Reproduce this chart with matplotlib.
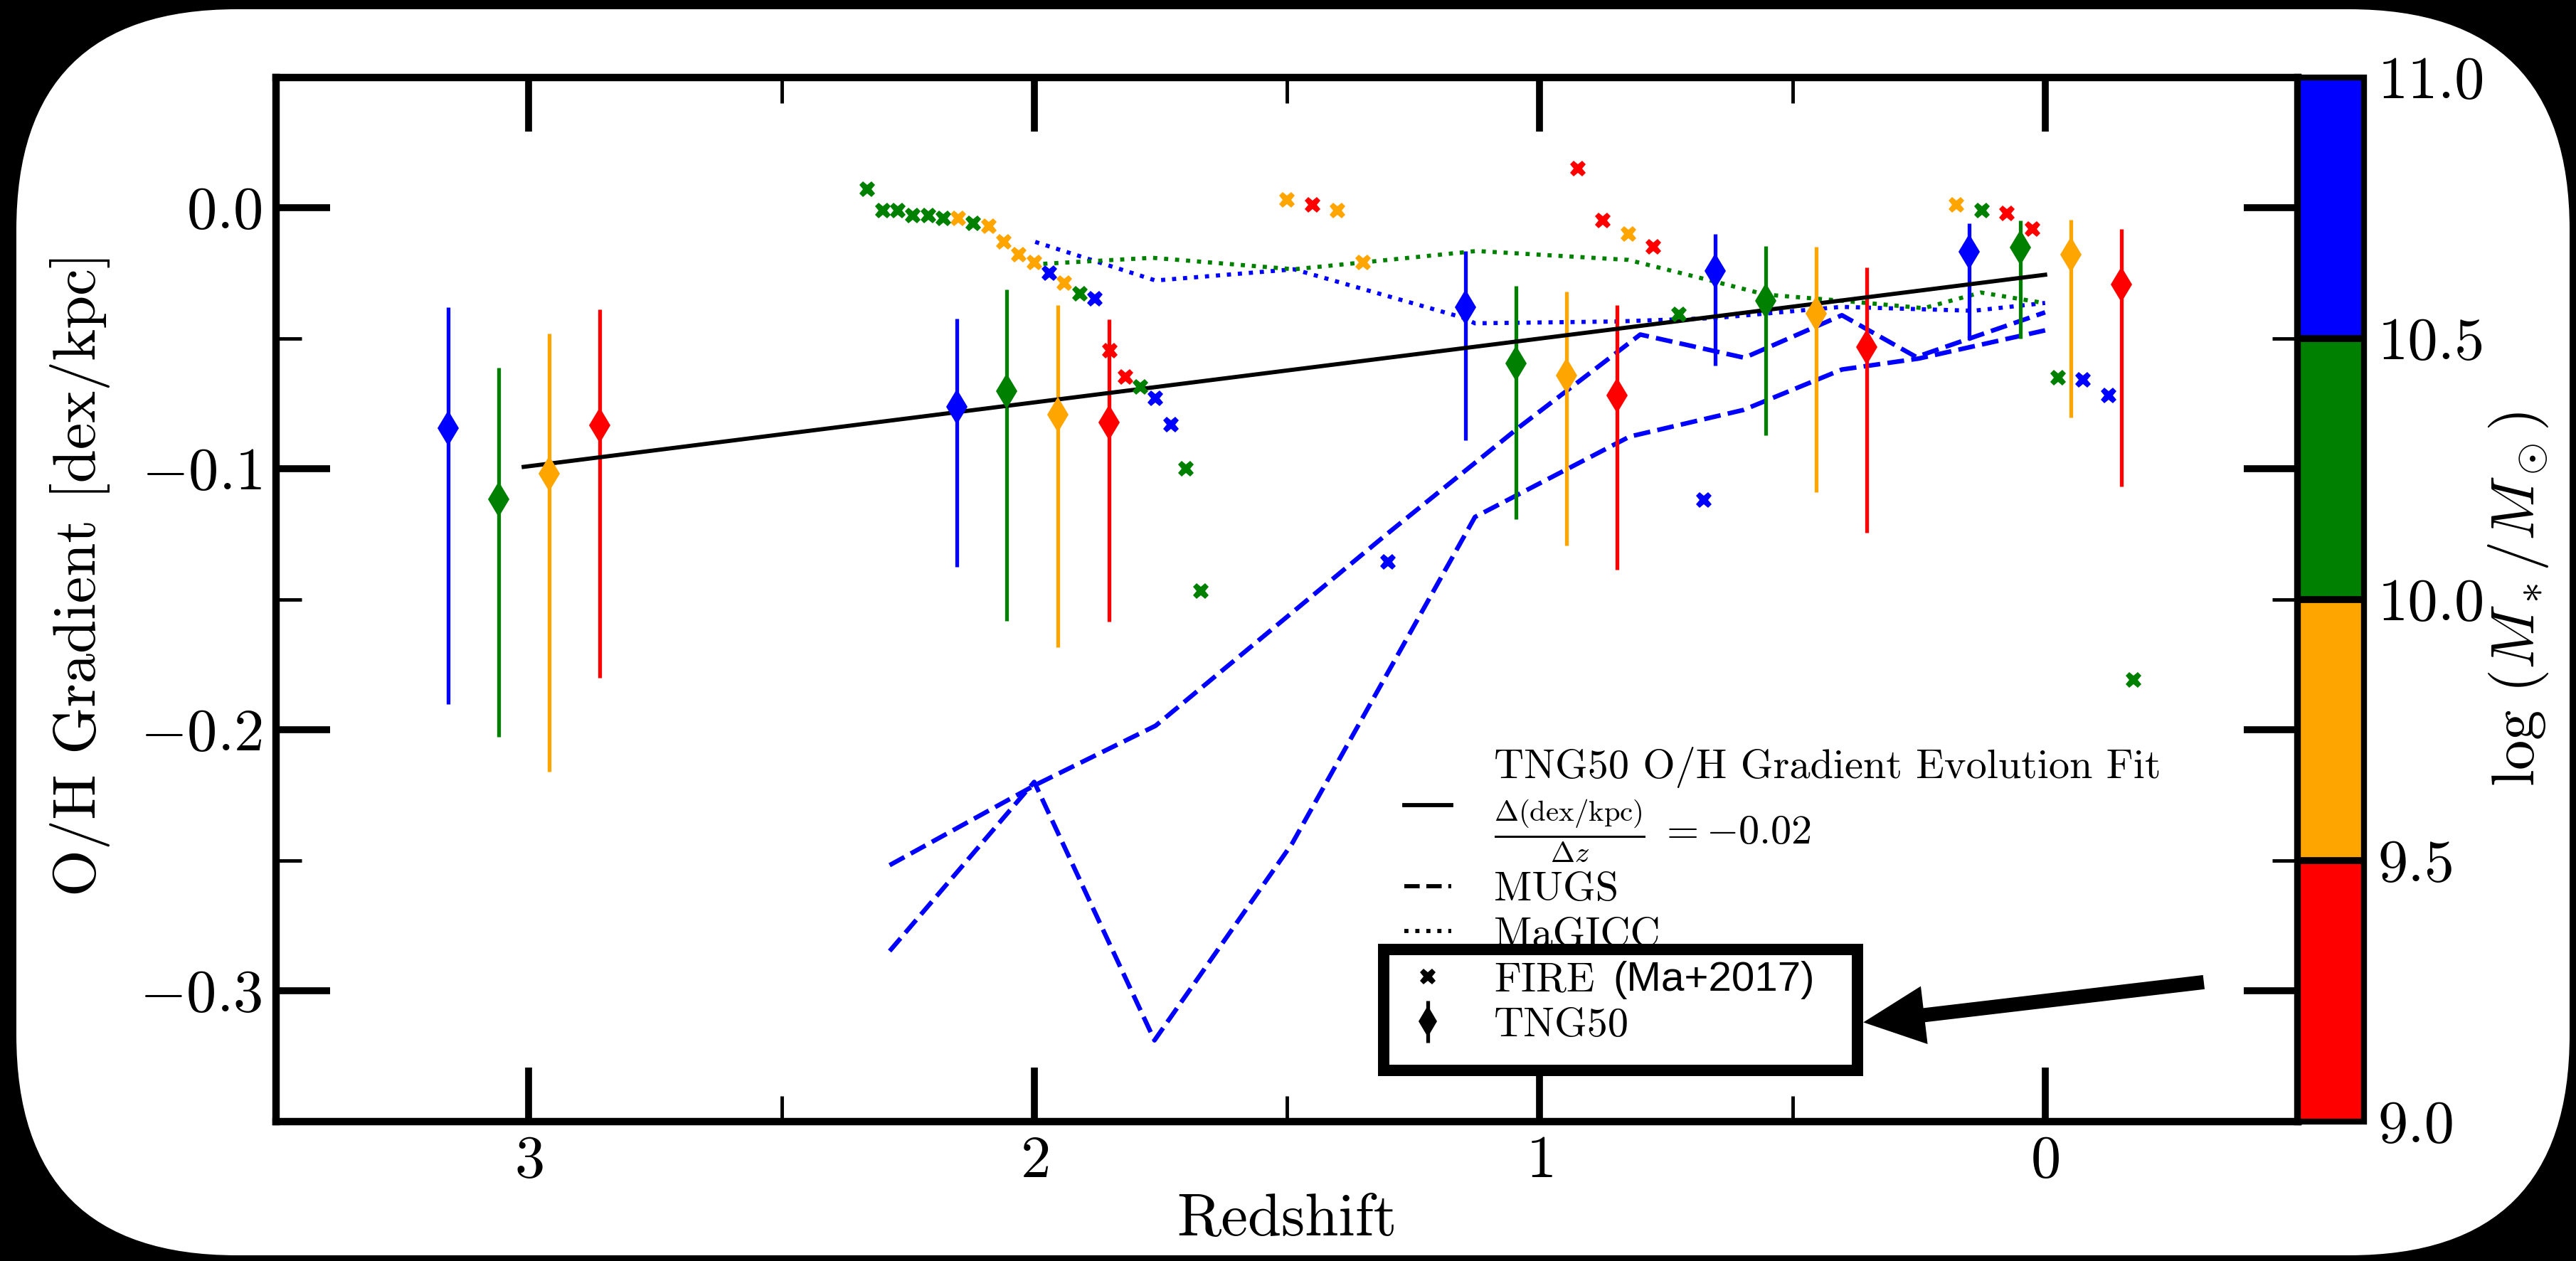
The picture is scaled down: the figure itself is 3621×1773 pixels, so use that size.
import numpy as np
import matplotlib
matplotlib.use('Agg')
import matplotlib.pyplot as plt
from matplotlib import colors as mcolors
from matplotlib import patches as mpatches
from matplotlib import transforms as mtransforms
from matplotlib.lines import Line2D
from matplotlib.ticker import MultipleLocator

plt.rcParams['font.family'] = 'serif'
plt.rcParams['font.serif'] = ['cmr10']
plt.rcParams['mathtext.fontset'] = 'cm'
plt.rcParams['axes.formatter.use_mathtext'] = True

# stellar mass bins, log(M*/Msun)
mass_edges = [9.0, 9.5, 10.0, 10.5, 11.0]
bin_colors = ['red', 'orange', 'green', 'blue']
cbar_ticklabels = ['9.0', '9.5', '10.0', '10.5', '11.0']

# TNG50 median gradients with scatter (bin index: 0 red .. 3 blue)
tng_z = [3.16, 3.06, 2.96, 2.86, 2.153, 2.054, 1.953, 1.852, 1.147, 1.047, 0.947, 0.847,
         0.653, 0.553, 0.453, 0.353, 0.150, 0.049, -0.051, -0.151]
tng_y = [-0.0846, -0.1117, -0.1019, -0.0834, -0.0764, -0.0702, -0.0792, -0.0823,
         -0.0382, -0.0597, -0.0642, -0.0718, -0.0243, -0.0357, -0.0405, -0.0534,
         -0.0170, -0.0152, -0.0181, -0.0294]
tng_top = [-0.0381, -0.0614, -0.0481, -0.0389, -0.0426, -0.0312, -0.0372, -0.0428,
           -0.0165, -0.0300, -0.0322, -0.0373, -0.0100, -0.0146, -0.0151, -0.0228,
           -0.0061, -0.0049, -0.0045, -0.0083]
tng_bot = [-0.1903, -0.2028, -0.2161, -0.1800, -0.1376, -0.1583, -0.1685, -0.1587,
           -0.0892, -0.1193, -0.1295, -0.1388, -0.0604, -0.0871, -0.1091, -0.1244,
           -0.0507, -0.0501, -0.0803, -0.1067]
tng_bin = [3, 2, 1, 0] * 5

# FIRE (Ma+2017)
fire_z = [2.33, 2.30, 2.27, 2.24, 2.21, 2.18, 2.15, 2.12, 2.09, 2.06, 2.03, 2.00,
          1.97, 1.94, 1.91, 1.88, 1.85, 1.82, 1.79, 1.76, 1.73, 1.70, 1.67,
          1.50, 1.45, 1.40, 1.35, 1.30,
          0.925, 0.875, 0.825, 0.775, 0.725, 0.675,
          0.175, 0.125, 0.075, 0.025, -0.025, -0.075, -0.125, -0.175]
fire_y = [0.0070, -0.0012, -0.0012, -0.0030, -0.0030, -0.0040, -0.0040, -0.0059,
          -0.0072, -0.0130, -0.0180, -0.0211, -0.0250, -0.0290, -0.0329, -0.0350,
          -0.0549, -0.0649, -0.0688, -0.0729, -0.0831, -0.0999, -0.1469,
          0.0030, 0.0011, -0.0012, -0.0211, -0.1356,
          0.0151, -0.0048, -0.0100, -0.0150, -0.0408, -0.1119,
          0.0010, -0.0011, -0.0021, -0.0081, -0.0650, -0.0659, -0.0720, -0.1810]
fire_bin = [2, 2, 2, 2, 2, 2, 1, 2, 1, 1, 1, 1, 3, 1, 2, 3, 0, 0, 2, 3, 3, 2, 2,
            1, 0, 1, 1, 3,
            0, 0, 1, 0, 2, 3,
            1, 2, 0, 0, 2, 3, 3, 2]

# MUGS (two galaxies)
mugs1_z = [2.286, 1.998, 1.760, 1.302, 1.040, 0.801, 0.595, 0.402, 0.255, 0.0]
mugs1_y = [-0.2519, -0.2212, -0.1985, -0.1250, -0.0840, -0.0486, -0.0575, -0.0412, -0.0572, -0.0401]
mugs2_z = [2.286, 2.000, 1.762, 1.490, 1.128, 0.822, 0.597, 0.402, 0.250, 0.0]
mugs2_y = [-0.2848, -0.2200, -0.3190, -0.2437, -0.1185, -0.0877, -0.0775, -0.0620, -0.0578, -0.0470]

# MaGICC (two galaxies)
magicc_b_z = [1.998, 1.760, 1.486, 1.152, 1.128, 0.848, 0.654, 0.403, 0.142, 0.0]
magicc_b_y = [-0.0131, -0.0279, -0.0236, -0.0421, -0.0443, -0.0436, -0.0423, -0.0380, -0.0395, -0.0365]
magicc_g_z = [1.982, 1.766, 1.486, 1.351, 1.125, 0.825, 0.660, 0.553, 0.405, 0.240, 0.127, 0.0]
magicc_g_y = [-0.0215, -0.0192, -0.0236, -0.0210, -0.0166, -0.0200, -0.0280, -0.0333, -0.0356, -0.0385, -0.0325, -0.0366]

# TNG50 fit
fit_z = [3.01, 0.0]
fit_y = [-0.0993, -0.0257]

W, H = 3621, 1773
fig = plt.figure(figsize=(W / 100, H / 100), dpi=100, facecolor='black')

# white rounded card behind everything
pix = mtransforms.Affine2D().scale(1 / W, 1 / H) + fig.transFigure
card = mpatches.FancyBboxPatch((23, 8), 3612 - 23, 1760 - 8,
                               boxstyle='round,pad=0,rounding_size=310',
                               transform=pix, facecolor='white', edgecolor='none', zorder=-10)
fig.patches.append(card)

bot = 1 - 1576.5 / H
hgt = (1576.5 - 108.5) / H
ax = fig.add_axes([388 / W, bot, (3230 - 388) / W, hgt])
cax = fig.add_axes([3230 / W, bot, 93 / W, hgt])

# simulations
ax.plot(mugs1_z, mugs1_y, '--', color='blue', lw=4.6, zorder=2)
ax.plot(mugs2_z, mugs2_y, '--', color='blue', lw=4.6, zorder=2)
ax.plot(magicc_b_z, magicc_b_y, ':', color='blue', lw=4.2, zorder=2)
ax.plot(magicc_g_z, magicc_g_y, ':', color='green', lw=4.2, zorder=2)

for i in range(len(tng_z)):
    c = bin_colors[tng_bin[i]]
    ax.errorbar(tng_z[i], tng_y[i], yerr=[[tng_y[i] - tng_bot[i]], [tng_top[i] - tng_y[i]]],
                fmt='none', ecolor=c, elinewidth=3.8, capsize=0, zorder=2)

ax.plot(fit_z, fit_y, '-', color='k', lw=4.2, zorder=2.5)

for i in range(len(tng_z)):
    ax.plot(tng_z[i], tng_y[i], 'd', color=bin_colors[tng_bin[i]], ms=25, mew=0, zorder=3)

fz = np.array(fire_z)
fy = np.array(fire_y)
fb = np.array(fire_bin)
for k in range(4):
    m = fb == k
    ax.plot(fz[m], fy[m], 'X', color=bin_colors[k], ms=16, mew=0, ls='none', zorder=3)

ax.set_xlim(3.5, -0.5)
ax.set_ylim(-0.35, 0.05)
ax.xaxis.set_major_locator(MultipleLocator(1))
ax.xaxis.set_minor_locator(MultipleLocator(0.5))
ax.yaxis.set_major_locator(MultipleLocator(0.1))
ax.yaxis.set_minor_locator(MultipleLocator(0.05))
ax.tick_params(which='both', direction='in', top=True, right=True)
ax.tick_params(which='major', length=55, width=7, labelsize=61, pad=14)
ax.tick_params(which='minor', length=26, width=3.5)
for s in ax.spines.values():
    s.set_linewidth(7.5)

ax.set_xlabel('Redshift', fontsize=61)
ax.xaxis.set_label_coords(0.5, -0.069)
ax.set_ylabel('O/H Gradient [dex/kpc]', fontsize=61)
ax.yaxis.set_label_coords(-0.082, 0.524)

# colorbar for mass bins
cmap = mcolors.ListedColormap(bin_colors)
norm = mcolors.BoundaryNorm(mass_edges, cmap.N)
cb = fig.colorbar(plt.cm.ScalarMappable(norm=norm, cmap=cmap), cax=cax,
                  ticks=mass_edges, drawedges=True)
cb.outline.set_linewidth(6)
cb.dividers.set_color('k')
cb.dividers.set_linewidth(7)
cax.set_yticklabels(cbar_ticklabels)
cax.tick_params(length=0, pad=14, labelsize=61)
cb.set_label(r'$\log\,(M_*/M_\odot)$', fontsize=61)
cax.yaxis.set_label_coords(2.85, 0.5)

# legend (black proxies)
h_fit = Line2D([], [], color='k', lw=4.2)
h_mugs = Line2D([], [], color='k', ls='--', lw=4.2)
h_magicc = Line2D([], [], color='k', ls=':', lw=4.2)
h_fire = Line2D([], [], color='k', marker='X', ls='none', ms=16, mew=0)
h_tng = ax.errorbar([np.nan], [np.nan], yerr=[np.nan], fmt='d', color='k', ms=22, mew=0,
                    elinewidth=3.8, capsize=0)
labels = ['TNG50 O/H Gradient Evolution Fit\n' + r'$\frac{\Delta(\mathrm{dex/kpc})}{\Delta z}\;=-0.02$',
          'MUGS', 'MaGICC', 'FIRE', 'TNG50']
leg = ax.legend([h_fit, h_mugs, h_magicc, h_fire, h_tng], labels, loc='upper left',
                bbox_to_anchor=(0.558, 0.3587), frameon=False, fontsize=42,
                handlelength=1.13, handletextpad=1.03, labelspacing=0.2,
                borderpad=0, borderaxespad=0)

# box around the FIRE / TNG50 entries and arrow
box = mpatches.Rectangle((1.3083, -0.3304), 0.3708 - 1.3083, 0.0462, fill=False,
                         lw=11.5, ec='k', joinstyle='miter', clip_on=False, zorder=5)
ax.add_patch(box)
ax.annotate('', xy=(0.3596, -0.3121), xytext=(-0.314, -0.2967),
            arrowprops=dict(arrowstyle='simple,head_length=0.62,head_width=0.59,tail_width=0.144',
                            mutation_scale=100, fc='k', ec='k', lw=0, shrinkA=0, shrinkB=0),
            zorder=6)

# sans-serif "(Ma+2017)" after FIRE
fig.canvas.draw()
t = leg.get_texts()[3]
bx = t.get_window_extent()
xb, yb = t.get_transform().transform(t.get_unitless_position())
fig.text(bx.x1 + 26, yb, '(Ma+2017)', transform=None, va='baseline', ha='left',
         family='Liberation Sans', fontsize=42)

fig.savefig('out.png', dpi=100, facecolor='black')
